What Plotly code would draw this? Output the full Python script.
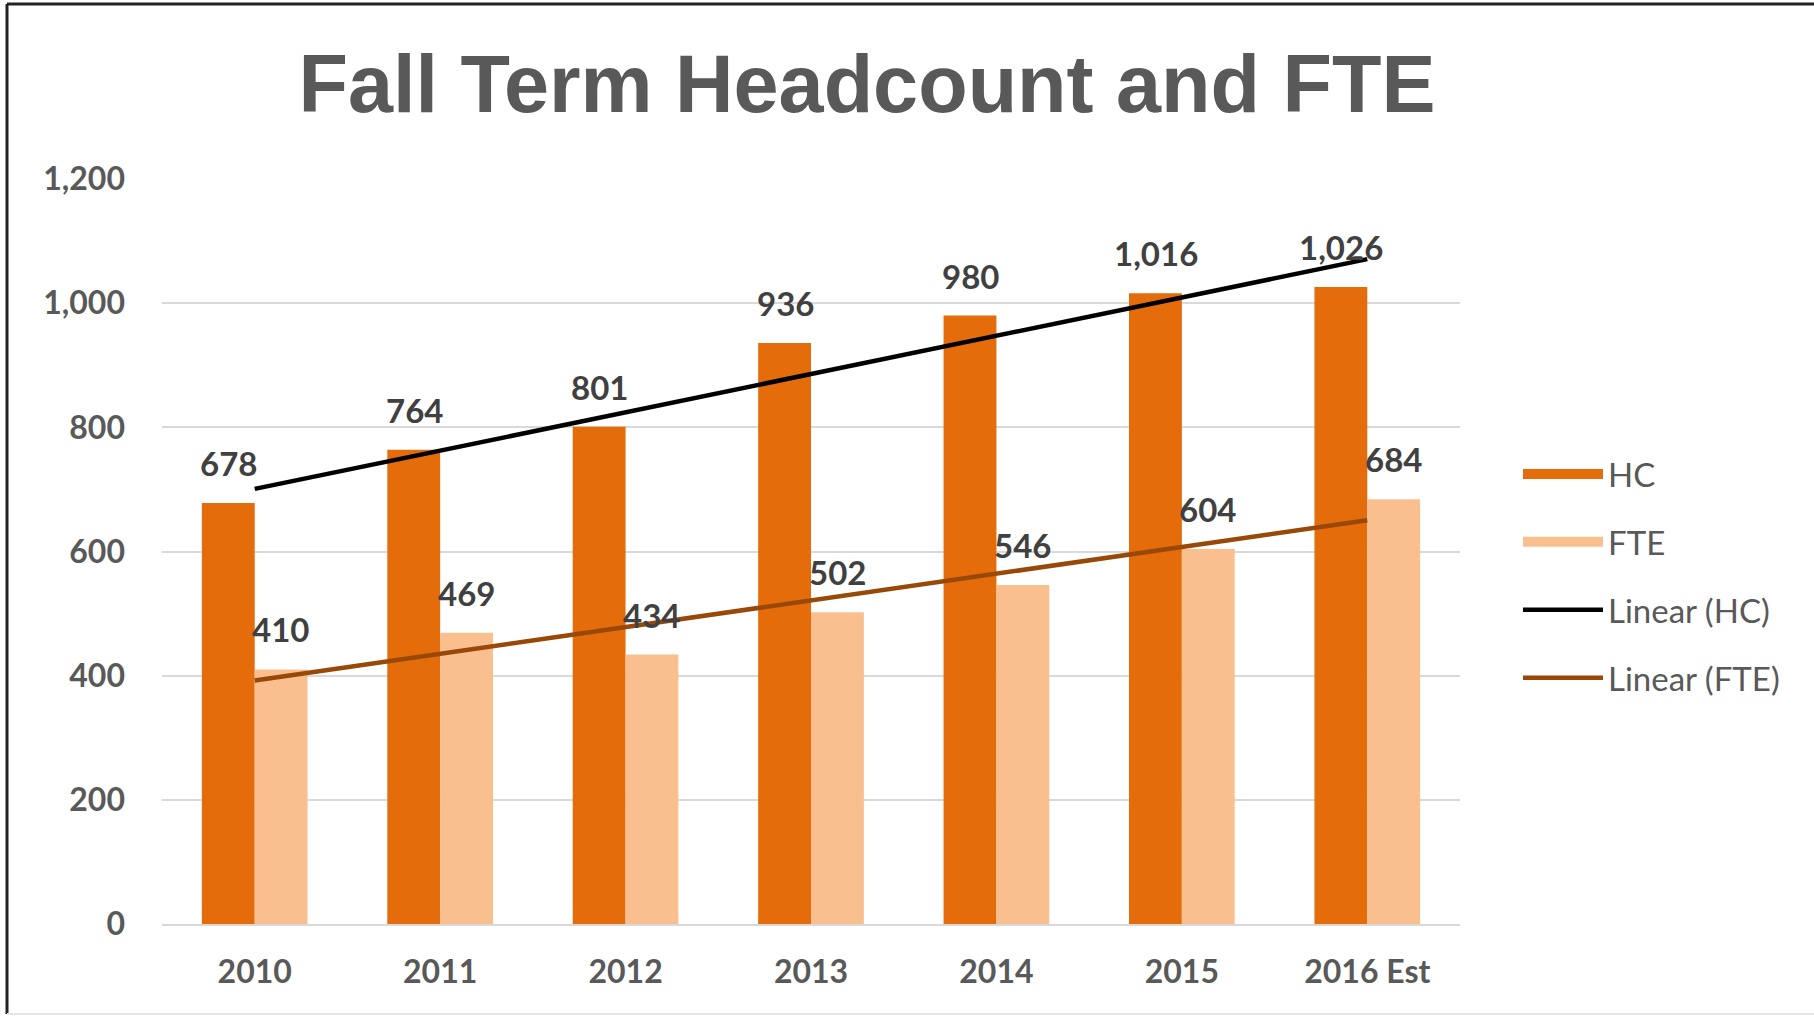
import numpy as np
import plotly.graph_objects as go

years = ["2010", "2011", "2012", "2013", "2014", "2015", "2016 Est"]
hc = [678, 764, 801, 936, 980, 1016, 1026]
fte = [410, 469, 434, 502, 546, 604, 684]
y_ticks = [0, 200, 400, 600, 800, 1000, 1200]

HC_COLOR = "#E46C0A"
FTE_COLOR = "#F9BF8F"
HC_TREND = "#000000"
FTE_TREND = "#984807"

# Linear trend lines (least squares, as in the spreadsheet's "Linear" trendline)
idx = np.arange(len(years))
hc_fit = np.polyval(np.polyfit(idx, hc, 1), idx)
fte_fit = np.polyval(np.polyfit(idx, fte, 1), idx)

W, H = 1814, 1016
L, R, T, B = 162, 354, 179, 92
pw, ph = W - L - R, H - T - B

def px_x(x):
    return (x - L) / pw

def px_y(y):
    return (H - B - y) / ph

fig = go.Figure()
fig.add_trace(go.Bar(x=years, y=hc, name="HC", marker=dict(color=HC_COLOR, line=dict(width=0)),
                     showlegend=False))
fig.add_trace(go.Bar(x=years, y=fte, name="FTE", marker=dict(color=FTE_COLOR, line=dict(width=0)),
                     showlegend=False))
fig.add_trace(go.Scatter(x=years, y=hc_fit, mode="lines", line=dict(color=HC_TREND, width=4.5),
                         showlegend=False, hoverinfo="skip"))
fig.add_trace(go.Scatter(x=years, y=fte_fit, mode="lines", line=dict(color=FTE_TREND, width=4.5),
                         showlegend=False, hoverinfo="skip"))

# legend entries
leg = [("HC", HC_COLOR, 18), ("FTE", FTE_COLOR, 18), ("Linear (HC)", HC_TREND, 4.5), ("Linear (FTE)", FTE_TREND, 4.5)]
for i, (nm, col, w) in enumerate(leg):
    fig.add_trace(go.Scatter(x=[years[0]], y=[None], mode="lines", name=nm,
                             line=dict(color=col, width=w), legendgroup=f"g{i}", hoverinfo="skip"))

lab_font = dict(family="Lato", size=33, color="#404040", weight="bold")
annotations = []
for i, v in enumerate(hc):
    annotations.append(dict(x=i, y=v, xref="x", yref="y", text=f"{v:,}", showarrow=False, xshift=-26,
                            yanchor="bottom", yshift=18, font=lab_font))
for i, v in enumerate(fte):
    annotations.append(dict(x=i, y=v, xref="x", yref="y", text=f"{v:,}", showarrow=False, xshift=26,
                            yanchor="bottom", yshift=18, font=lab_font))

shapes = [
    dict(type="line", xref="paper", yref="paper", x0=px_x(7), x1=px_x(W + 5), y0=px_y(4), y1=px_y(4),
         line=dict(color="#222222", width=3)),
    dict(type="line", xref="paper", yref="paper", x0=px_x(7), x1=px_x(7), y0=px_y(4), y1=px_y(1014),
         line=dict(color="#222222", width=3)),
    dict(type="line", xref="paper", yref="paper", x0=px_x(7), x1=px_x(W + 5), y0=px_y(1014), y1=px_y(1014),
         line=dict(color="#E6E6E6", width=2)),
]

fig.update_layout(
    width=W, height=H,
    margin=dict(l=L, r=R, t=T, b=B, autoexpand=False),
    paper_bgcolor="white", plot_bgcolor="white",
    barmode="group", bargap=0.43, bargroupgap=0,
    title=dict(text="<b>Fall Term Headcount and FTE</b>", x=867 / W, xanchor="center",
               y=1 - 84 / H, yanchor="middle", yref="container",
               font=dict(family="Liberation Sans, Arial", size=81, color="#595959")),
    showlegend=True,
    legend=dict(x=px_x(1518), y=px_y(446), xanchor="left", yanchor="top",
                traceorder="grouped", tracegroupgap=22,
                font=dict(family="Lato", size=33, color="#595959"),
                bgcolor="rgba(0,0,0,0)", itemwidth=80),
    annotations=annotations,
    shapes=shapes,
)

fig.update_xaxes(type="category", categoryorder="array", categoryarray=years, range=[-0.5, 6.5],
                 showgrid=False, showline=True, linecolor="#D9D9D9", linewidth=2,
                 ticks="", ticklabelstandoff=19,
                 tickfont=dict(family="Lato", size=32, color="#595959", weight="bold"))
fig.update_yaxes(range=[0, 1200], tickvals=y_ticks, ticktext=[f"{v:,}" for v in y_ticks],
                 showgrid=True, gridcolor="#D9D9D9", gridwidth=2, zeroline=False,
                 showline=False, ticks="", ticklabelstandoff=36,
                 tickfont=dict(family="Lato", size=32, color="#595959", weight="bold"))

fig.write_html("out.html", config={"displayModeBar": False},
               post_script="document.body.style.margin='0px';")
